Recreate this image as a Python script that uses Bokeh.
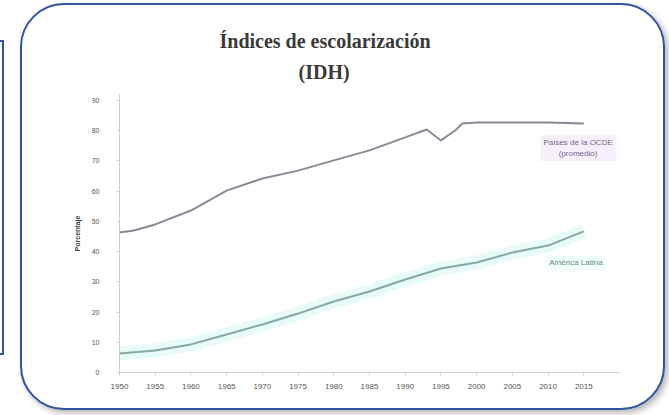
from bokeh.plotting import figure
from bokeh.models import Title, Label, FixedTicker, Range1d
from bokeh.embed import file_html
from bokeh.resources import INLINE

# ---- data ----
years_top = [1950, 1952, 1955, 1960, 1965, 1970, 1975, 1980, 1985, 1990, 1993, 1995, 1997, 1998, 2000, 2005, 2010, 2015]
vals_top = [46.3, 47.0, 49.0, 53.6, 60.2, 64.2, 66.8, 70.2, 73.5, 77.8, 80.4, 76.8, 80.1, 82.4, 82.7, 82.7, 82.7, 82.4]

years_bot = [1950, 1955, 1960, 1965, 1970, 1975, 1980, 1985, 1990, 1995, 2000, 2005, 2010, 2015]
vals_bot = [6.3, 7.3, 9.3, 12.6, 15.9, 19.5, 23.5, 26.8, 30.8, 34.4, 36.4, 39.7, 42.0, 46.7]

x_ticks = list(range(1950, 2016, 5))
y_ticks = list(range(0, 91, 10))

title_line1 = "Índices de escolarización"
title_line2 = "(IDH)"
label_top = "Países de la OCDE\n(promedio)"
label_bot = "América Latina"
y_title = "Porcentaje"

p = figure(width=645, height=407,
           x_range=Range1d(1950, 2020), y_range=Range1d(0, 92),
           output_backend="svg", toolbar_location=None,
           min_border_left=97, min_border_right=48,
           min_border_top=89, min_border_bottom=40)

p.margin = (3, 0, 0, 20)
p.styles = {"border": "2px solid #2F54A0", "border-radius": "44px",
            "box-shadow": ("-615px -9px 0 -48px white, "
                           "-615px -9px 0 -46px #2F54A0, "
                           "3px 3px 6px rgba(0,0,0,0.30)"),
            "overflow": "hidden", "background-color": "white"}
p.background_fill_color = None
p.border_fill_color = None
p.outline_line_color = None
p.grid.visible = False

# titles (spacer nearest the frame, then line 2, then line 1)
spacer = Title(text=" ", text_font_size="1px", standoff=2)
p.add_layout(spacer, "above")
t2 = Title(text=title_line2, align="left", offset=179, text_font="Liberation Serif",
           text_font_size="20px", text_color="#3a3a3a", standoff=14)
p.add_layout(t2, "above")
p.title.text = title_line1
p.title.align = "left"
p.title.offset = 100
p.title.text_font = "Liberation Serif"
p.title.text_font_size = "20px"
p.title.text_color = "#3a3a3a"
p.title.standoff = 0

# axes
for ax in (p.xaxis[0], p.yaxis[0]):
    ax.axis_line_color = "#CFCFCF"
    ax.major_tick_line_color = "#CFCFCF"
    ax.minor_tick_line_color = None
    ax.major_tick_out = 3
    ax.major_tick_in = 0
    ax.major_label_text_font = "Liberation Sans"
    ax.major_label_text_font_size = "7px"
    ax.major_label_text_color = "#555555"

p.xaxis.ticker = FixedTicker(ticks=x_ticks)
p.yaxis.ticker = FixedTicker(ticks=y_ticks)
p.xaxis.major_label_text_font_size = "8px"
p.xaxis.major_label_standoff = 8
p.yaxis.major_label_standoff = 17
p.yaxis.axis_label = y_title
p.yaxis.axis_label_text_font = "Liberation Sans"
p.yaxis.axis_label_text_font_size = "7px"
p.yaxis.axis_label_text_font_style = "bold"
p.yaxis.axis_label_text_color = "#444444"
p.yaxis.axis_label_standoff = 8

# lines
p.line(years_bot, vals_bot, line_color="#E4FBF7", line_width=14, line_alpha=0.9)
p.line(years_top, vals_top, line_color="#8C8896", line_width=2)
p.line(years_bot, vals_bot, line_color="#86A9A1", line_width=2)

# labels
p.add_layout(Label(x=2014.2, y=78.5, text=label_top, text_align="center", text_baseline="top",
                   text_font="Liberation Sans", text_font_size="8px", text_color="#74668A",
                   background_fill_color="#F6EEFA", background_fill_alpha=0.9, padding=3))
p.add_layout(Label(x=2013.9, y=36.4, text=label_bot, text_align="center", text_baseline="middle",
                   text_font="Liberation Sans", text_font_size="8px", text_color="#6A8983",
                   background_fill_color="#EEFFFB", background_fill_alpha=0.9, padding=3))

open("out.html", "w").write(file_html(p, INLINE))
